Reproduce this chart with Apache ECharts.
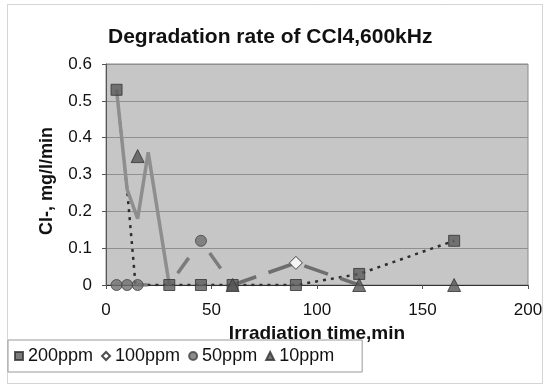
<!DOCTYPE html>
<html>
<head>
<meta charset="utf-8">
<script src="https://cdn.jsdelivr.net/npm/echarts@6/dist/echarts.min.js"></script>
<style>
    html, body { margin: 0; padding: 0; background: #fff; }
    #chart { width: 544px; height: 390px; }
</style>
</head>
<body>
<div id="chart"></div>
<script>
// ============================================
// 数据
// ============================================

const seriesNames = ['200ppm', '100ppm', '50ppm', '10ppm'];

// 标记点 [时间 min, Cl- mg/l/min]
const pts200 = [[5, 0.53], [30, 0], [45, 0], [60, 0], [90, 0], [120, 0.03], [165, 0.12]];
const pts100 = [[90, 0.06]];
const pts50 = [[5, 0], [10, 0], [15, 0], [45, 0.12]];
const pts10 = [[15, 0.35], [60, 0], [120, 0], [165, 0]];

// 连线(图中线条与标记并不完全对应，按图读取)
const lineDotted = [[5, 0.53], [10, 0.26], [14, 0], [30, 0], [45, 0], [60, 0], [90, 0], [120, 0.03], [165, 0.12]];
const lineSolid = [[5, 0.53], [10, 0.26], [15, 0.18], [20, 0.36], [30, 0]];
const line50 = [[15, 0], [30, 0], [45, 0.12], [60, 0]];
const line100 = [[60, 0], [90, 0.06], [120, 0]];

const xTicks = [0, 50, 100, 150, 200];
const yTicks = [0, 0.1, 0.2, 0.3, 0.4, 0.5, 0.6];

// ============================================
// 样式
// ============================================

const FONT = '"Liberation Sans", Arial, sans-serif';

const markerStyles = {
    '200ppm': { symbol: 'rect', size: 11, color: '#5a5a5a', border: '#333' },
    '100ppm': { symbol: 'diamond', size: 13, color: '#ffffff', border: '#222' },
    '50ppm': { symbol: 'circle', size: 11, color: '#6f6f6f', border: '#444' },
    '10ppm': { symbol: 'triangle', size: 13, color: '#555555', border: '#333' }
};

function markerSeries(name, data) {
    const s = markerStyles[name];
    return {
        type: 'scatter',
        name: name,
        data: data,
        symbol: s.symbol,
        symbolSize: s.size,
        itemStyle: { color: s.color, borderColor: s.border, borderWidth: 1 },
        z: 5
    };
}

function lineSeries(data, lineStyle) {
    return {
        type: 'line',
        data: data,
        symbol: 'none',
        silent: true,
        lineStyle: lineStyle,
        z: 3
    };
}

// ============================================
// 图表
// ============================================

const chart = echarts.init(document.getElementById('chart'));

chart.setOption({
    animation: false,
    textStyle: { fontFamily: FONT },
    title: {
        text: 'Degradation rate of CCl4,600kHz',
        left: 103,
        top: 22,
        textStyle: { fontFamily: FONT, fontSize: 21, fontWeight: 'bold', color: '#111' }
    },
    graphic: [{
        type: 'rect',
        silent: true,
        shape: { x: 7.5, y: 4.5, width: 535, height: 379 },
        style: { fill: 'none', stroke: '#aaa', lineWidth: 1, lineDash: [1, 1] }
    }],
    legend: {
        data: seriesNames.map(n => ({ name: n, icon: markerStyles[n].symbol })),
        left: 8,
        top: 340,
        orient: 'horizontal',
        padding: [7, 28, 7, 6],
        borderColor: '#999',
        borderWidth: 1,
        itemWidth: 8,
        itemHeight: 8,
        itemGap: 8,
        textStyle: { fontFamily: FONT, fontSize: 18, color: '#111' }
    },
    grid: {
        left: 106,
        right: 16,
        top: 64,
        bottom: 105,
        show: true,
        backgroundColor: '#c6c6c6',
        borderColor: '#8a8a8a',
        borderWidth: 1,
        outerBoundsMode: 'none'
    },
    xAxis: {
        type: 'value',
        min: xTicks[0],
        max: xTicks[xTicks.length - 1],
        interval: 50,
        name: 'Irradiation time,min',
        nameLocation: 'middle',
        nameGap: 34,
        nameTextStyle: { fontFamily: FONT, fontSize: 19, fontWeight: 'bold', color: '#111' },
        axisLine: { show: true, onZero: false, lineStyle: { color: '#333', width: 1 } },
        axisTick: { show: true, length: 4, lineStyle: { color: '#555' } },
        axisLabel: { margin: 17, fontSize: 17, color: '#111' },
        splitLine: { show: false }
    },
    yAxis: {
        type: 'value',
        min: yTicks[0],
        max: yTicks[yTicks.length - 1],
        interval: 0.1,
        name: 'Cl-, mg/l/min',
        nameLocation: 'middle',
        nameGap: 50,
        nameTextStyle: { fontFamily: FONT, fontSize: 18, fontWeight: 'bold', color: '#111', padding: [0, 13, 0, 0] },
        axisLine: { show: true, lineStyle: { color: '#555', width: 1 } },
        axisTick: { show: true, length: 4, lineStyle: { color: '#555' } },
        axisLabel: { margin: 14, fontSize: 17, color: '#111' },
        splitLine: { show: true, lineStyle: { color: '#8f8f8f', width: 1 } }
    },
    series: [
        lineSeries(lineDotted, { color: '#2e2e2e', width: 2.5, type: [3, 5] }),
        lineSeries(lineSolid, { color: '#8e8e8e', width: 3.5, type: 'solid' }),
        lineSeries(line50, { color: '#7c7c7c', width: 3.5, type: [19, 36], dashOffset: 9 }),
        lineSeries(line100, { color: '#6e6e6e', width: 3.5, type: [25, 13], dashOffset: 0 }),
        markerSeries('200ppm', pts200),
        markerSeries('100ppm', pts100),
        markerSeries('50ppm', pts50),
        markerSeries('10ppm', pts10)
    ]
});
</script>
</body>
</html>
